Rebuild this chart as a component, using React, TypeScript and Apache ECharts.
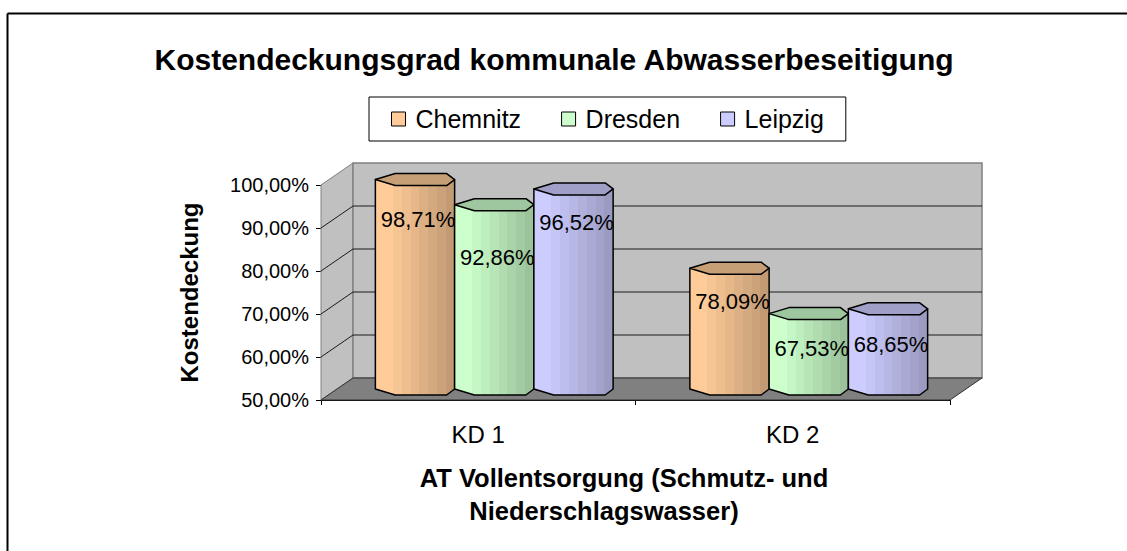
import React, { useEffect, useRef } from "react";
import * as echarts from "echarts";

// ---- data ----
const categories = ["KD 1", "KD 2"];
const seriesNames = ["Chemnitz", "Dresden", "Leipzig"];
const chemnitz = [98.71, 78.09];
const dresden = [92.86, 67.53];
const leipzig = [96.52, 68.65];
const yTicks = [50, 60, 70, 80, 90, 100];

const titleText = "Kostendeckungsgrad kommunale Abwasserbeseitigung";
const yName = "Kostendeckung";
const xNameLine1 = "AT Vollentsorgung (Schmutz- und";
const xNameLine2 = "Niederschlagswasser)";

// ---- styles ----
const FONT = '"Liberation Sans", Arial, Helvetica, sans-serif';
const baseColors = ["#FFCC99", "#CCFFCC", "#CCCCFF"];
const DX = 32; // depth offset x
const DY = 22; // depth offset y
const labelDy = [
  [40, 33],
  [53, 34.5],
  [34, 36],
];

function hexToRgb(h: string) {
  const n = parseInt(h.slice(1), 16);
  return [(n >> 16) & 255, (n >> 8) & 255, n & 255];
}
function shade(h: string, f: number) {
  const [r, g, b] = hexToRgb(h);
  return `rgb(${Math.round(r * f)},${Math.round(g * f)},${Math.round(b * f)})`;
}
function bandGradient(h: string) {
  const n = 9;
  const stops: any[] = [];
  for (let i = 0; i < n; i++) {
    const f = i < 2 ? 1 : 1 - 0.24 * ((i - 1) / (n - 2));
    const c = shade(h, f);
    stops.push({ offset: i / n, color: c });
    stops.push({ offset: (i + 1) / n, color: c });
  }
  return new echarts.graphic.LinearGradient(0, 0, 1, 0, stops);
}

const fmt = (v: number) => v.toFixed(2).replace(".", ",") + "%";

function makeCylinderRender(sIdx: number) {
  return (params: any, api: any) => {
    const cat = api.value(0);
    const val = api.value(1);
    const top0 = api.coord([cat, val]);
    const base0 = api.coord([cat, yTicks[0]]);
    const band = api.size([1, 0])[0];
    const w = band * 0.252;
    const xc = top0[0] + DX / 2 + (sIdx - 1) * w;
    const yTop = top0[1] - DY / 2;
    const yBot = base0[1] - DY / 2;
    const x0 = xc - w / 2;
    const x1 = xc + w / 2;
    const ry = 6;
    const col = baseColors[sIdx];
    const body = [
      [x0, yTop],
      [x0, yBot],
      [x0 + 0.25 * w, yBot + ry],
      [x1 - 0.1 * w, yBot + ry],
      [x1, yBot],
      [x1, yTop],
    ];
    const topFace = [
      [x0, yTop],
      [x0 + 0.25 * w, yTop - ry],
      [x1 - 0.1 * w, yTop - ry],
      [x1, yTop],
      [x1 - 0.1 * w, yTop + ry],
      [x0 + 0.25 * w, yTop + ry],
    ];
    return {
      type: "group",
      children: [
        {
          type: "polygon",
          shape: { points: body },
          style: { fill: bandGradient(col), stroke: "#000", lineWidth: 1.5, lineJoin: "round" },
        },
        {
          type: "polygon",
          shape: { points: topFace },
          style: { fill: shade(col, 0.78), stroke: "#000", lineWidth: 1.5, lineJoin: "round" },
        },
        {
          type: "text",
          style: {
            text: fmt(val),
            x: xc + 3,
            y: yTop + labelDy[sIdx][cat],
            fill: "#000",
            font: `22px ${FONT}`,
            align: "center",
            verticalAlign: "middle",
          },
        },
      ],
    };
  };
}

function renderWalls(params: any, api: any) {
  const cs = params.coordSys;
  const gx = cs.x, gy = cs.y, gw = cs.width, gh = cs.height;
  const children: any[] = [];
  children.push({
    type: "polygon",
    shape: { points: [[gx, gy], [gx + DX, gy - DY], [gx + DX, gy + gh - DY], [gx, gy + gh]] },
    style: { fill: "#C0C0C0", stroke: "#808080", lineWidth: 1 },
  });
  children.push({
    type: "rect",
    shape: { x: gx + DX, y: gy - DY, width: gw, height: gh },
    style: { fill: "#C0C0C0", stroke: "#808080", lineWidth: 1.5 },
  });
  children.push({
    type: "polygon",
    shape: {
      points: [[gx, gy + gh], [gx + DX, gy + gh - DY], [gx + gw + DX, gy + gh - DY], [gx + gw, gy + gh]],
    },
    style: { fill: "#808080", stroke: "#303030", lineWidth: 1 },
  });
  yTicks.slice(1, yTicks.length - 1).forEach((t) => {
    const y = api.coord([0, t])[1];
    children.push({
      type: "line",
      shape: { x1: gx + DX, y1: y - DY, x2: gx + gw + DX, y2: y - DY },
      style: { stroke: "#1a1a1a", lineWidth: 1 },
    });
    children.push({
      type: "line",
      shape: { x1: gx, y1: y, x2: gx + DX, y2: y - DY },
      style: { stroke: "#1a1a1a", lineWidth: 1 },
    });
  });
  return { type: "group", children };
}

export default function App() {
  const ref = useRef<HTMLDivElement>(null);
  useEffect(() => {
    if (!ref.current) return;
    const chart = echarts.init(ref.current, undefined, { renderer: "svg" });
    const seriesData = [chemnitz, dresden, leipzig];
    const option: any = {
      animation: false,
      backgroundColor: "#fff",
      textStyle: { fontFamily: FONT },
      title: {
        text: titleText,
        left: 549,
        textAlign: "center",
        top: 39,
        textStyle: { fontFamily: FONT, fontSize: 30, fontWeight: "bold", color: "#000" },
      },
      legend: {
        data: seriesNames,
        left: 369,
        top: 97,
        padding: [9, 22, 9, 22],
        itemGap: 40,
        itemWidth: 14,
        itemHeight: 14,
        icon: "rect",
        backgroundColor: "#fff",
        borderColor: "#000",
        borderWidth: 1,
        borderRadius: 0,
        itemStyle: { borderColor: "#000", borderWidth: 1 },
        textStyle: { fontFamily: FONT, fontSize: 25, color: "#000", lineHeight: 26, padding: [0, 0, 0, 5] },
        selectedMode: false,
      },
      graphic: [
        {
          type: "line",
          shape: { x1: 7.5, y1: 13.5, x2: 1127, y2: 13.5 },
          style: { stroke: "#000", lineWidth: 2 },
          silent: true,
          z: 100,
        },
        {
          type: "line",
          shape: { x1: 7.5, y1: 13.5, x2: 7.5, y2: 551 },
          style: { stroke: "#000", lineWidth: 2 },
          silent: true,
          z: 100,
        },
      ],
      grid: { left: 321, top: 185, width: 629, height: 215 },
      xAxis: {
        type: "category",
        data: categories,
        boundaryGap: true,
        axisLine: { show: true, lineStyle: { color: "#000", width: 1 } },
        axisTick: { show: true, length: 5, lineStyle: { color: "#000" } },
        axisLabel: { fontFamily: FONT, fontSize: 24, color: "#000", margin: 22 },
        splitLine: { show: false },
        name: `{a|${xNameLine1}}\n{b|${xNameLine2}}`,
        nameLocation: "middle",
        nameGap: 61,
        nameTextStyle: {
          fontFamily: FONT,
          fontSize: 25,
          fontWeight: "bold",
          color: "#000",
          lineHeight: 33,
          padding: [0, 23, 0, 0],
          rich: {
            a: { fontFamily: FONT, fontSize: 25.5, fontWeight: "bold", color: "#000", lineHeight: 33 },
            b: {
              fontFamily: FONT,
              fontSize: 25.5,
              fontWeight: "bold",
              color: "#000",
              lineHeight: 33,
              padding: [0, 40, 0, 0],
            },
          },
        },
      },
      yAxis: {
        type: "value",
        min: 50,
        max: 100,
        interval: 10,
        axisLine: { show: true, lineStyle: { color: "#000", width: 1 } },
        axisTick: { show: true, length: 5, lineStyle: { color: "#000" } },
        axisLabel: { fontFamily: FONT, fontSize: 20, color: "#000", margin: 12, formatter: (v: number) => fmt(v) },
        splitLine: { show: false },
        name: yName,
        nameLocation: "middle",
        nameGap: 120,
        nameTextStyle: { fontFamily: FONT, fontSize: 24, fontWeight: "bold", color: "#000" },
      },
      series: [
        {
          type: "custom",
          name: "walls",
          silent: true,
          z: 1,
          renderItem: renderWalls,
          data: [[0, yTicks[0]]],
          encode: { x: 0, y: 1 },
        },
        ...seriesNames.map((name, i) => ({
          type: "custom",
          name,
          z: 2 + i,
          itemStyle: { color: baseColors[i] },
          renderItem: makeCylinderRender(i),
          data: categories.map((_, c) => [c, seriesData[i][c]]),
          encode: { x: 0, y: 1 },
        })),
      ],
    };
    chart.setOption(option);
    return () => chart.dispose();
  }, []);
  return (
    <div
      ref={ref}
      style={{
        position: "absolute",
        left: 0,
        top: 0,
        width: 1127,
        height: 551,
        overflow: "hidden",
        background: "#fff",
      }}
    />
  );
}
